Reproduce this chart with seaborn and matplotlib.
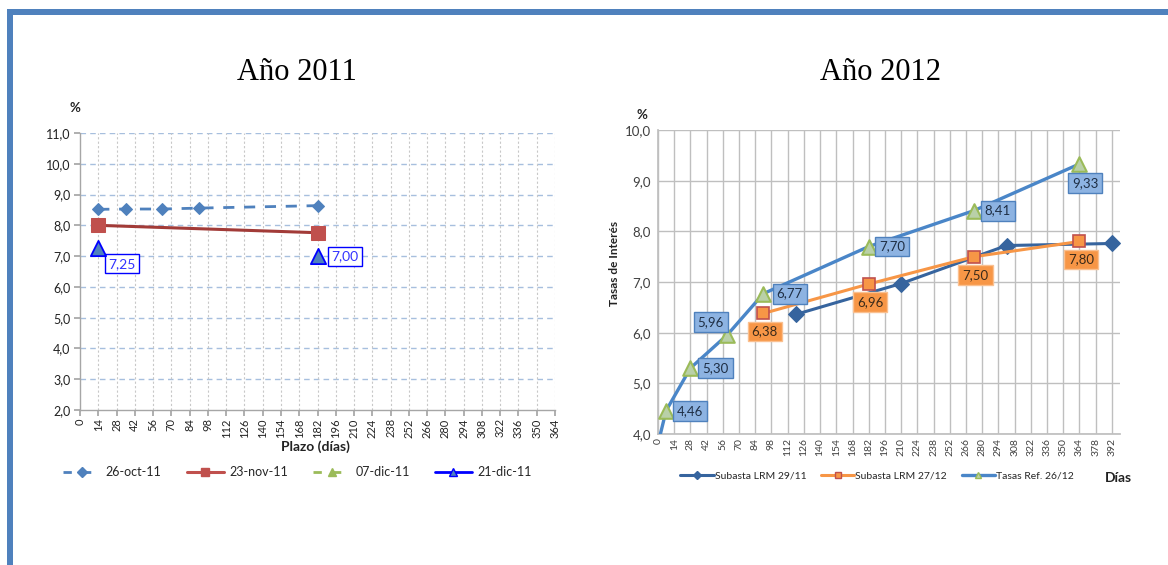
import numpy as np
import pandas as pd
import seaborn as sns
import matplotlib.pyplot as plt
from matplotlib.lines import Line2D
from matplotlib.patches import Rectangle

# ---- data: 2011 ----
days_oct = [14, 35, 63, 91, 182]
rates_oct = [8.52, 8.53, 8.53, 8.56, 8.64]
days_nov = [14, 182]
rates_nov = [8.00, 7.76]
days_dic21 = [14, 182]
rates_dic21 = [7.25, 7.00]
labels_2011 = ["26-oct-11", "23-nov-11", "07-dic-11", "21-dic-11"]

# ---- data: 2012 ----
days_lrm_2911 = [119, 210, 301, 392]
rates_lrm_2911 = [6.36, 6.97, 7.72, 7.76]
days_lrm_2712 = [91, 182, 273, 364]
rates_lrm_2712 = [6.38, 6.96, 7.50, 7.80]
days_ref = [1, 7, 28, 60, 91, 182, 273, 364]
rates_ref = [3.90, 4.46, 5.30, 5.96, 6.77, 7.70, 8.41, 9.33]
labels_2012 = ["Subasta LRM 29/11", "Subasta LRM 27/12", "Tasas Ref. 26/12"]

sns.set_theme(style="white")
plt.rcParams["font.family"] = ["Lato", "DejaVu Sans"]

W, H = 1168, 565
fig = plt.figure(figsize=(W / 100, H / 100), dpi=100)


def fx(x):
    return x / W


def fy(y):
    return 1 - y / H


def fmt(v):
    return f"{v:.2f}".replace(".", ",")


# blue page frame
fig.patches.append(Rectangle((fx(7), fy(15)), fx(W - 7), 6 / H, transform=fig.transFigure,
                             facecolor="#4F81BD", edgecolor="none"))
fig.patches.append(Rectangle((fx(7), 0), 6 / W, fy(9), transform=fig.transFigure,
                             facecolor="#4F81BD", edgecolor="none"))

# ================= 2011 =================
ax1 = fig.add_axes([fx(80), fy(410), fx(475), (410 - 133) / H])
ax1.set_xlim(0, 364)
ax1.set_ylim(2, 11)
ax1.set_xticks(np.arange(0, 365, 14))
ax1.set_yticks(np.arange(2, 11.1, 1))
ax1.set_yticklabels([f"{v:.1f}".replace(".", ",") for v in np.arange(2, 11.1, 1)])
ax1.tick_params(axis="x", labelrotation=90, labelsize=8, length=4, color="#A6A6A6",
                pad=2, labelcolor="#222222", direction="out", bottom=True)
ax1.tick_params(axis="y", labelsize=9, length=4, color="#A6A6A6", pad=3,
                labelcolor="#222222", direction="out", left=True)
for v in np.arange(3, 11.1, 1):
    ax1.axhline(v, color="#A7BFDE", lw=1, ls=(0, (4, 3)), zorder=0)
for d in np.arange(14, 365, 14):
    ax1.axvline(d, color="#C8C8C8", lw=0.8, ls=(0, (2, 2)), zorder=0)
for s in ["top", "right"]:
    ax1.spines[s].set_visible(False)
for s in ["left", "bottom"]:
    ax1.spines[s].set_color("#A6A6A6")
    ax1.spines[s].set_linewidth(1)

sns.lineplot(x=days_oct, y=rates_oct, ax=ax1, color="#4F81BD", lw=2,
             linestyle=(0, (4, 3.5)), marker="D", markersize=6,
             markeredgecolor="#4F81BD", zorder=3)
sns.lineplot(x=days_nov, y=rates_nov, ax=ax1, color="#A23B38", lw=2.2,
             marker="s", markersize=10, markerfacecolor="#C0504D",
             markeredgecolor="#C0504D", zorder=3)
ax1.scatter(days_dic21, rates_dic21, marker="^", s=120, facecolor="#4F81BD",
            edgecolor="#0000FF", linewidth=1.3, zorder=4)
ax1.annotate(fmt(rates_dic21[0]), (days_dic21[0], rates_dic21[0]),
             xytext=(17, -11), textcoords="offset points", ha="center", va="center",
             fontsize=10, color="#3333FF",
             bbox=dict(boxstyle="square,pad=0.25", fc="white", ec="#0000FF", lw=1))
ax1.annotate(fmt(rates_dic21[1]), (days_dic21[1], rates_dic21[1]),
             xytext=(20, 0), textcoords="offset points", ha="center", va="center",
             fontsize=10, color="#3333FF",
             bbox=dict(boxstyle="square,pad=0.25", fc="white", ec="#0000FF", lw=1))
ax1.set_xlabel("")
ax1.set_ylabel("")

h2011 = [
    Line2D([], [], color="#4F81BD", lw=2, ls=(0, (3, 4)), marker="D", markersize=5),
    Line2D([], [], color="#C0504D", lw=2.2, marker="s", markersize=6),
    Line2D([], [], color="#9BBB59", lw=2, ls=(0, (3, 4)), marker="^", markersize=6),
    Line2D([], [], color="#0000FF", lw=2, marker="^", markersize=6,
           markerfacecolor="#4F81BD"),
]
fig.legend(h2011, labels_2011, loc="center left", bbox_to_anchor=(fx(52), fy(472)),
           ncol=4, frameon=False, fontsize=9, handlelength=3.0, columnspacing=2.0,
           handletextpad=0.4)

fig.text(fx(297), fy(72), "Año 2011", ha="center", va="center", fontsize=22,
         family="Liberation Serif", color="black")
fig.text(fx(75), fy(108), "%", ha="center", va="center", fontsize=9.5,
         fontweight="bold", color="#222222")
fig.text(fx(315), fy(447), "Plazo (días)", ha="center", va="center", fontsize=10,
         fontweight="bold", color="#222222")

# ================= 2012 =================
ax2 = fig.add_axes([fx(658), fy(434), fx(462), (434 - 130) / H])
ax2.set_xlim(0, 399)
ax2.set_ylim(4, 10)
ax2.set_xticks(np.arange(0, 393, 14))
ax2.set_yticks(np.arange(4, 10.1, 1))
ax2.set_yticklabels([f"{v:.1f}".replace(".", ",") for v in np.arange(4, 10.1, 1)])
ax2.tick_params(axis="x", labelrotation=90, labelsize=7.5, length=0, pad=3,
                labelcolor="#404040")
ax2.tick_params(axis="y", labelsize=9.5, length=0, pad=5, labelcolor="#404040")
ax2.grid(True, color="#BFBFBF", lw=1)
ax2.set_axisbelow(True)
for s in ["top", "right"]:
    ax2.spines[s].set_visible(False)
for s in ["left", "bottom"]:
    ax2.spines[s].set_color("#BFBFBF")

sns.lineplot(x=days_lrm_2911, y=rates_lrm_2911, ax=ax2, color="#36649E", lw=2.2,
             marker="D", markersize=8, markeredgecolor="#36649E", zorder=3)
sns.lineplot(x=days_lrm_2712, y=rates_lrm_2712, ax=ax2, color="#F79646", lw=2.2,
             marker="s", markersize=9, markerfacecolor="#F79646",
             markeredgecolor="#C0504D", markeredgewidth=1.2, zorder=4)
sns.lineplot(x=days_ref, y=rates_ref, ax=ax2, color="#4A86C8", lw=2.4, zorder=5)
ax2.scatter(days_ref[1:], rates_ref[1:], marker="^", s=110, facecolor="#B9D0A8",
            edgecolor="#9BBB59", linewidth=1.5, zorder=6)
ax2.set_xlabel("")
ax2.set_ylabel("")

ref_offsets = [(17, 0), (18, 0), (-12, 9), (19, 0), (17, 0), (17, 0), (4, -14)]
for d, v, off in zip(days_ref[1:], rates_ref[1:], ref_offsets):
    ax2.annotate(fmt(v), (d, v), xytext=off, textcoords="offset points",
                 ha="center", va="center", fontsize=9.5, color="#1F2F45",
                 bbox=dict(boxstyle="square,pad=0.3", fc="#8DB3E2", ec="#4F81BD", lw=1),
                 zorder=7)
for d, v in zip(days_lrm_2712, rates_lrm_2712):
    ax2.annotate(fmt(v), (d, v), xytext=(1, -13), textcoords="offset points",
                 ha="center", va="center", fontsize=9.5, color="#3A2A1A",
                 bbox=dict(boxstyle="square,pad=0.3", fc="#F79646", ec="#FAC090", lw=1),
                 zorder=7)

h2012 = [
    Line2D([], [], color="#36649E", lw=2.2, marker="D", markersize=4),
    Line2D([], [], color="#F79646", lw=2.2, marker="s", markersize=5,
           markeredgecolor="#C0504D"),
    Line2D([], [], color="#4A86C8", lw=2.4, marker="^", markersize=5,
           markerfacecolor="#B9D0A8", markeredgecolor="#9BBB59"),
]
fig.legend(h2012, labels_2012, loc="center left", bbox_to_anchor=(fx(671), fy(476)),
           ncol=3, frameon=False, fontsize=7.5, handlelength=3.2, columnspacing=1.4,
           handletextpad=0.1)

fig.text(fx(880), fy(72), "Año 2012", ha="center", va="center", fontsize=22,
         family="Liberation Serif", color="black")
fig.text(fx(642), fy(115), "%", ha="center", va="center", fontsize=9.5,
         fontweight="bold", color="#222222")
fig.text(fx(614), fy(263), "Tasas de Interés", ha="center", va="center", fontsize=8.5,
         fontweight="bold", rotation=90, color="#222222")
fig.text(fx(1118), fy(478), "Días", ha="center", va="center", fontsize=10,
         fontweight="bold", color="#222222")

fig.savefig("out.png", dpi=100)
